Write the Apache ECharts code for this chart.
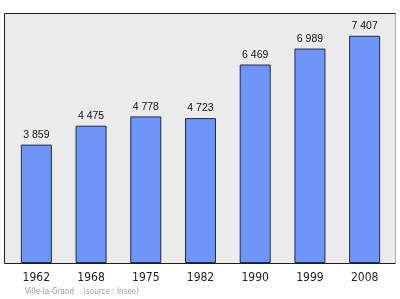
<!DOCTYPE html>
<html><head><meta charset="utf-8">
<script src="https://cdn.jsdelivr.net/npm/echarts@6/dist/echarts.min.js"></script>
<style>html,body{margin:0;padding:0;background:#fff}#c{width:400px;height:299px}</style>
</head><body><div id="c"></div>
<script>
const years = ['1962','1968','1975','1982','1990','1999','2008'];
const population = [3859, 4475, 4778, 4723, 6469, 6989, 7407];
const yMax = 8148;
const footnote = 'Ville-la-Grand    (source : Insee)';

const chart = echarts.init(document.getElementById('c'), null, {renderer: 'canvas'});
const fmt = v => String(v).replace(/\B(?=(\d{3})+(?!\d))/g, ' ');
chart.setOption({
  animation: false,
  graphic: [
    {type: 'rect', z: -10, shape: {x: 4.5, y: 13.5, width: 391, height: 250},
     style: {fill: '#ebebeb', stroke: '#1e1e1e', lineWidth: 1}},
    {type: 'line', z: -9, shape: {x1: 395.5, y1: 13.5, x2: 395.5, y2: 263.5},
     style: {stroke: '#a8a8a8', lineWidth: 1}},
    {type: 'text', left: 25, top: 288,
     style: {text: footnote, fill: '#9a9a9a', font: '8px "DejaVu Sans Condensed", "DejaVu Sans", sans-serif'}}
  ],
  grid: {left: 9, right: 8, top: 13, bottom: 36, containLabel: false},
  xAxis: {
    type: 'category', data: years,
    axisLine: {show: true, lineStyle: {color: '#1e1e1e', width: 1}},
    axisTick: {show: false},
    axisLabel: {color: '#222', fontSize: 12, margin: 9, fontFamily: '"DejaVu Sans Condensed", "DejaVu Sans"'}
  },
  yAxis: {
    type: 'value', min: 0, max: yMax,
    axisLine: {show: false}, axisTick: {show: false}, axisLabel: {show: false},
    splitLine: {show: false}
  },
  series: [{
    type: 'bar', data: population, barWidth: 31,
    itemStyle: {color: '#6f96f7', borderColor: '#1c2b52', borderWidth: 1},
    label: {show: true, position: 'top', distance: 4, color: '#111', fontSize: 10.5,
      fontFamily: '"Liberation Sans", Arial, sans-serif', formatter: p => fmt(p.value)}
  }]
});
</script></body></html>
